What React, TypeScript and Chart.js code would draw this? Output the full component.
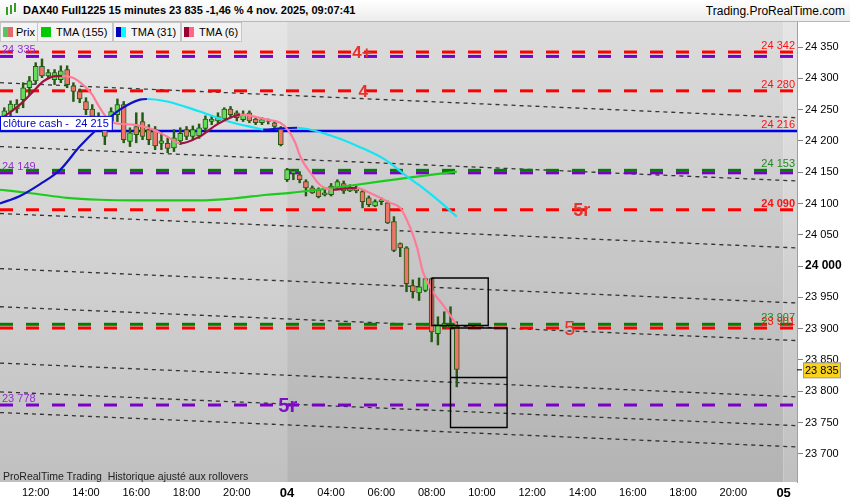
import React, { useEffect, useRef } from "react";
import { Chart, registerables } from "chart.js";

Chart.register(...registerables);

const FONT = '"Liberation Sans", Arial, Helvetica, sans-serif';

// ---------- candles (15 min bars, index = bar number) ----------
const OPEN = [
  24239, 24247, 24251, 24266, 24285, 24296, 24319, 24304, 24298, 24298,
  24314, 24288, 24279, 24263, 24251, 24239, 24224, 24231, 24242, 24258,
  24199, 24223, 24231, 24218, 24218, 24196, 24196, 24189, 24200, 24218,
  24207, 24208, 24220, 24231, 24232, 24235, 24251, 24245, 24234, 24245,
  24235, 24229, 24231, 24229, 24220,
  24138, 24148, 24146, 24135, 24125, 24122, 24114, 24114, 24125, 24132,
  24120, 24125, 24119, 24109, 24096, 24103, 24101, 24071, 24036, 24029,
  23969, 23957, 23961, 23980, 23892, 23903, 23903, 23903,
];
const HIGH = [
  24253, 24264, 24266, 24293, 24303, 24325, 24331, 24314, 24314, 24320,
  24320, 24293, 24283, 24269, 24258, 24245, 24234, 24253, 24267, 24263,
  24221, 24245, 24245, 24226, 24223, 24213, 24205, 24218, 24221, 24223,
  24224, 24227, 24240, 24240, 24245, 24253, 24255, 24248, 24248, 24248,
  24239, 24237, 24235, 24232, 24223,
  24156, 24154, 24151, 24138, 24128, 24125, 24122, 24132, 24138, 24136,
  24130, 24128, 24122, 24112, 24106, 24109, 24104, 24079, 24037, 24031,
  23978, 23981, 23981, 23981, 23919, 23927, 23935, 23911,
];
const LOW = [
  24234, 24239, 24245, 24253, 24274, 24291, 24301, 24299, 24290, 24293,
  24285, 24263, 24261, 24242, 24237, 24223, 24194, 24221, 24231, 24197,
  24191, 24197, 24202, 24194, 24186, 24186, 24181, 24183, 24194, 24202,
  24202, 24204, 24216, 24226, 24229, 24232, 24237, 24232, 24231, 24229,
  24226, 24226, 24227, 24220, 24192,
  24135, 24138, 24133, 24112, 24116, 24109, 24112, 24112, 24122, 24116,
  24119, 24117, 24093, 24095, 24095, 24098, 24068, 24023, 24015, 23959,
  23949, 23945, 23959, 23879, 23874, 23900, 23900, 23807,
];
const CLOSE = [
  24248, 24259, 24259, 24285, 24296, 24319, 24304, 24309, 24309, 24312,
  24290, 24279, 24267, 24250, 24239, 24227, 24207, 24247, 24258, 24202,
  24213, 24210, 24207, 24202, 24192, 24200, 24188, 24205, 24212, 24207,
  24218, 24221, 24235, 24235, 24239, 24251, 24242, 24237, 24243, 24232,
  24229, 24234, 24232, 24223, 24194,
  24154, 24152, 24138, 24125, 24117, 24111, 24117, 24128, 24135, 24120,
  24125, 24120, 24103, 24098, 24103, 24106, 24069, 24025, 24029, 23972,
  23959, 23967, 23980, 23895, 23906, 23908, 23906, 23835,
];

// ---------- moving averages (read at bar positions) ----------
const TMA6_X = [0, 2.5, 4.6, 6.2, 7.8, 9.2, 10.9, 12.5, 14, 14.9, 16.3, 17.3, 20.5, 23.7, 25.9, 28, 31.1, 33.8, 36.4, 37.5, 41.8, 43.9, 45.1, 46.3, 47.1, 47.8, 48.6, 50.2, 52.3, 54.2, 56.1, 57.7, 61.4, 63, 64.6, 65.7, 66.6, 68.2, 69.8, 72];
const TMA6_Y = [24239, 24258, 24279, 24295, 24303, 24304, 24301, 24290, 24274, 24258, 24237, 24229, 24226, 24218, 24207, 24196, 24207, 24226, 24239, 24242, 24234, 24229, 24218, 24197, 24175, 24162, 24151, 24130, 24122, 24124, 24125, 24119, 24101, 24093, 24061, 24029, 23991, 23959, 23938, 23906];

const TMA31_X = [-0.68, 2.5, 5.7, 8.9, 12, 15.2, 18.4, 21.6, 22.7, 25.9, 31.1, 36.4, 39.9, 41.2, 43.9, 46.6, 51.8, 56.6, 60.6, 64.1, 66.6, 69.3, 72];
const TMA31_Y = [24100, 24112, 24131, 24154, 24191, 24223, 24250, 24266, 24267, 24263, 24247, 24229, 24221, 24218, 24220, 24221, 24209, 24190, 24170, 24143, 24125, 24103, 24079];

const TMA155_X = [-0.68, 4.6, 10, 15.2, 20.5, 31.1, 36.4, 41.8, 45.5, 50.7, 56.1, 64.1, 72];
const TMA155_Y = [24122, 24116, 24109, 24106, 24105, 24105, 24108, 24114, 24117, 24123, 24130, 24141, 24151];

// ---------- horizontal levels ----------
const RED_LEVELS = [24342, 24280, 24090, 23901];
const RED_TAGS = ["4+", "4", "5r", "5"];
const RED_TAG_AT = [56.9, 57.1, 91.9, 90];
const PURPLE_LEVELS = [24335, 24149, 23778];
const PURPLE_TAGS = ["", "", "5r"];
const PURPLE_TAG_AT = [0, 0, 45.1];
const GREEN_LEVELS = [24153, 23907];
const CASH_LEVEL = 24216;
const CASH_TEXT = "clôture cash -  24 215";
const RIGHT_LABELS = [24342, 24280, 24216, 24153, 24090, 23907, 23901];
const LAST_PRICE = 23835;

// ---------- trend channel lines (value at left edge / right edge) ----------
const TREND_START = [24293, 24191, 24084, 23996, 23935, 23845, 23799, 23766];
const TREND_END = [24237, 24136, 24029, 23941, 23881, 23791, 23745, 23711];

// ---------- range boxes ----------
const BOX_LEFT = [68, 71];
const BOX_RIGHT = [77, 80];
const BOX_TOP = [23981, 23901];
const BOX_BOTTOM = [23905, 23742];
const BOX_MID = 23822;

// ---------- axes ----------
const TIME_TICKS = [5, 13, 21, 29, 37, 45, 52, 60, 68, 76, 84, 92, 100, 108, 116, 124];
const TIME_LABELS = ["12:00", "14:00", "16:00", "18:00", "20:00", "04", "04:00", "06:00", "08:00", "10:00", "12:00", "14:00", "16:00", "18:00", "20:00", "05"];
const DAY_STARTS = [45, 124];
const PRICE_TICKS = [23700, 23750, 23800, 23850, 23900, 23950, 24000, 24050, 24100, 24150, 24200, 24250, 24300, 24350];
const X_MIN = -0.68;
const X_MAX = 126.13;
const Y_MIN = 23655;
const Y_MAX = 24390;

const fmt = (v: number) => {
  const s = Math.round(v).toString();
  return s.slice(0, s.length - 3) + " " + s.slice(-3);
};

const C_UP = "#63dc58";
const C_DN = "#ef7468";
const C_EDGE = "#245a12";
const C_RED = "#ff0000";
const C_PURPLE = "#7a00c8";
const C_GREEN = "#008000";

const bgPlugin = {
  id: "bgPlugin",
  beforeDraw(chart: any) {
    const { ctx, chartArea: a, scales } = chart;
    const x = scales.x;
    ctx.save();
    ctx.fillStyle = "#ffffff";
    ctx.fillRect(0, 0, chart.width, chart.height);
    const light = ctx.createLinearGradient(0, a.top, 0, a.bottom);
    light.addColorStop(0, "#e5e5e5");
    light.addColorStop(1, "#c0c0c0");
    const dark = ctx.createLinearGradient(0, a.top, 0, a.bottom);
    dark.addColorStop(0, "#dcdcdc");
    dark.addColorStop(1, "#b3b3b3");
    const b1 = x.getPixelForValue(DAY_STARTS[0]);
    const b2 = x.getPixelForValue(DAY_STARTS[1]);
    const h = a.bottom - a.top;
    ctx.fillStyle = light;
    ctx.fillRect(a.left, a.top, b1 - a.left, h);
    ctx.fillStyle = dark;
    ctx.fillRect(b1, a.top, b2 - b1, h);
    ctx.fillStyle = light;
    ctx.fillRect(b2, a.top, a.right - b2, h);
    ctx.restore();
  },
};

const annotPlugin = {
  id: "annotPlugin",
  afterDatasetsDraw(chart: any) {
    const { ctx, chartArea: a, scales } = chart;
    const x = scales.x;
    const y = scales.y;
    ctx.save();
    ctx.beginPath();
    ctx.rect(a.left, a.top, a.right - a.left, a.bottom - a.top);
    ctx.clip();

    // right value labels
    ctx.textAlign = "right";
    ctx.textBaseline = "alphabetic";
    RIGHT_LABELS.forEach((v) => {
      const green = GREEN_LEVELS.includes(v);
      ctx.fillStyle = green ? "#1f8a1f" : "#ff1010";
      ctx.font = (v === 24090 ? "bold " : "") + "11px " + FONT;
      ctx.fillText(fmt(v), a.right - 2, y.getPixelForValue(v) - 3);
    });

    // left purple labels
    ctx.textAlign = "left";
    ctx.fillStyle = "#9030d0";
    ctx.font = "11px " + FONT;
    PURPLE_LEVELS.forEach((v) => {
      ctx.fillText(fmt(v), a.left + 2, y.getPixelForValue(v) - 3);
    });

    // big tags on levels
    ctx.textAlign = "center";
    ctx.textBaseline = "middle";
    RED_LEVELS.forEach((v, i) => {
      const t = RED_TAGS[i];
      if (!t) return;
      ctx.fillStyle = "#e8322c";
      ctx.font = (t === "5" ? "" : "bold ") + (t === "5" ? "20px " : t === "5r" ? "18px " : "17px ") + FONT;
      ctx.fillText(t, x.getPixelForValue(RED_TAG_AT[i]), y.getPixelForValue(v) + 1);
    });
    PURPLE_LEVELS.forEach((v, i) => {
      const t = PURPLE_TAGS[i];
      if (!t) return;
      ctx.fillStyle = "#7a10c0";
      ctx.font = "bold 20px " + FONT;
      ctx.fillText(t, x.getPixelForValue(PURPLE_TAG_AT[i]), y.getPixelForValue(v) + 1);
    });

    // cash close label box
    const yc = y.getPixelForValue(CASH_LEVEL);
    ctx.font = "11px " + FONT;
    const w = ctx.measureText(CASH_TEXT).width + 6;
    ctx.fillStyle = "#ffffff";
    ctx.fillRect(a.left + 0.5, yc - 14.5, w, 14);
    ctx.strokeStyle = "#0000dd";
    ctx.lineWidth = 1;
    ctx.strokeRect(a.left + 0.5, yc - 14.5, w, 14);
    ctx.fillStyle = "#0000cc";
    ctx.textAlign = "left";
    ctx.textBaseline = "alphabetic";
    ctx.fillText(CASH_TEXT, a.left + 3, yc - 3.5);
    ctx.restore();
  },
  afterDraw(chart: any) {
    const { ctx, chartArea: a, scales } = chart;
    const y = scales.y;
    const yp = y.getPixelForValue(LAST_PRICE) + 1;
    ctx.save();
    ctx.strokeStyle = "#000";
    ctx.lineWidth = 1;
    ctx.beginPath();
    ctx.moveTo(a.right, yp - 0.5);
    ctx.lineTo(a.right + 5, yp - 0.5);
    ctx.stroke();
    ctx.fillStyle = "#f8d21c";
    ctx.fillRect(a.right + 6.5, yp - 7.5, 37, 15);
    ctx.strokeStyle = "#9a9a9a";
    ctx.strokeRect(a.right + 6.5, yp - 7.5, 37, 15);
    ctx.fillStyle = "#000";
    ctx.font = "11px " + FONT;
    ctx.textAlign = "left";
    ctx.textBaseline = "middle";
    ctx.fillText(fmt(LAST_PRICE), a.right + 8, yp + 0.5);
    ctx.restore();
  },
};

function buildDatasets() {
  const ds: any[] = [];
  // trend channel
  TREND_START.forEach((s, i) => {
    ds.push({
      type: "line",
      data: [{ x: X_MIN, y: s }, { x: X_MAX, y: TREND_END[i] }],
      borderColor: "rgba(25,25,25,0.85)",
      borderWidth: 1.3,
      borderDash: [4, 4],
      pointRadius: 0,
      order: 12,
    });
  });
  const level = (v: number, color: string, order: number) => ({
    type: "line",
    data: [{ x: X_MIN, y: v }, { x: X_MAX, y: v }],
    borderColor: color,
    borderWidth: 3,
    borderDash: [13, 13],
    borderCapStyle: "butt",
    pointRadius: 0,
    order,
  });
  PURPLE_LEVELS.forEach((v) => ds.push(level(v, C_PURPLE, 11)));
  GREEN_LEVELS.forEach((v) => ds.push(level(v, C_GREEN, 10)));
  RED_LEVELS.forEach((v) => ds.push(level(v, C_RED, 10)));
  ds.push({
    type: "line",
    data: [{ x: X_MIN, y: CASH_LEVEL }, { x: X_MAX, y: CASH_LEVEL }],
    borderColor: "#0000e0",
    borderWidth: 2.5,
    pointRadius: 0,
    order: 9,
  });
  // candles
  ds.push({
    type: "bar",
    data: HIGH.map((h, i) => ({ x: i, y: [LOW[i], h] })),
    backgroundColor: C_EDGE,
    borderWidth: 0,
    barThickness: 1.8,
    grouped: false,
    order: 8,
  });
  ds.push({
    type: "bar",
    data: OPEN.map((o, i) => ({ x: i, y: [o, CLOSE[i]] })),
    backgroundColor: (c: any) => (CLOSE[c.dataIndex] >= OPEN[c.dataIndex] ? C_UP : C_DN),
    borderColor: C_EDGE,
    borderWidth: 1,
    borderSkipped: false,
    barThickness: 5,
    grouped: false,
    order: 7,
  });
  const ma = (xs: number[], ys: number[], up: string, dn: string, order: number, width: number) => ({
    type: "line",
    data: xs.map((v, i) => ({ x: v, y: ys[i] })),
    borderColor: dn,
    borderWidth: width,
    cubicInterpolationMode: "monotone",
    pointRadius: 0,
    segment: {
      borderColor: (c: any) => (c.p1.parsed.y >= c.p0.parsed.y ? up : dn),
    },
    order,
  });
  ds.push(ma(TMA155_X, TMA155_Y, "#1ccc1c", "#1ccc1c", 6, 2.2));
  ds.push(ma(TMA31_X, TMA31_Y, "#1010c8", "#12e6f6", 5, 2.2));
  ds.push(ma(TMA6_X, TMA6_Y, "#a01040", "#ff7a98", 4, 2.2));
  // boxes
  BOX_LEFT.forEach((l, i) => {
    const r = BOX_RIGHT[i];
    ds.push({
      type: "line",
      data: [
        { x: l, y: BOX_TOP[i] },
        { x: r, y: BOX_TOP[i] },
        { x: r, y: BOX_BOTTOM[i] },
        { x: l, y: BOX_BOTTOM[i] },
        { x: l, y: BOX_TOP[i] },
      ],
      borderColor: "#000",
      borderWidth: 1.4,
      pointRadius: 0,
      tension: 0,
      order: 1,
    });
  });
  ds.push({
    type: "line",
    data: [{ x: BOX_LEFT[1], y: BOX_MID }, { x: BOX_RIGHT[1], y: BOX_MID }],
    borderColor: "#000",
    borderWidth: 1.4,
    pointRadius: 0,
    order: 1,
  });
  return ds;
}

export default function App() {
  const ref = useRef<HTMLCanvasElement | null>(null);
  useEffect(() => {
    if (!ref.current) return;
    const chart = new Chart(ref.current, {
      type: "line",
      data: { datasets: buildDatasets() },
      options: {
        responsive: false,
        animation: false,
        devicePixelRatio: 1,
        layout: { padding: { top: 22, left: 0, right: 0, bottom: 0 } },
        plugins: { legend: { display: false }, tooltip: { enabled: false } },
        scales: {
          x: {
            type: "linear",
            position: "bottom",
            offset: false,
            min: X_MIN,
            max: X_MAX,
            grid: { display: false, drawTicks: false, tickLength: 0, offset: false },
            border: { display: false },
            afterBuildTicks: (s: any) => {
              s.ticks = TIME_TICKS.map((v) => ({ value: v }));
            },
            afterFit: (s: any) => {
              s.height = 18;
              s.paddingLeft = 0;
              s.paddingRight = 0;
            },
            ticks: {
              autoSkip: false,
              maxRotation: 0,
              padding: 4,
              color: "#000",
              font: (c: any) =>
                c.tick && DAY_STARTS.includes(c.tick.value)
                  ? { family: FONT, size: 13, weight: "bold" }
                  : { family: FONT, size: 11 },
              callback: (_v: any, i: number) => TIME_LABELS[i],
            },
          },
          y: {
            type: "linear",
            position: "right",
            beginAtZero: false,
            min: Y_MIN,
            max: Y_MAX,
            afterBuildTicks: (s: any) => {
              s.ticks = PRICE_TICKS.map((v) => ({ value: v }));
            },
            afterFit: (s: any) => {
              s.width = 53;
            },
            grid: { drawOnChartArea: false, drawTicks: true, tickLength: 6, color: "#808080" },
            border: { display: true, color: "#a0a0a0" },
            ticks: {
              padding: 2,
              color: "#000",
              font: (c: any) =>
                c.tick && c.tick.value === 24000
                  ? { family: FONT, size: 12, weight: "bold" }
                  : { family: FONT, size: 11 },
              callback: (v: any) => fmt(Number(v)),
            },
          },
        },
      } as any,
      plugins: [bgPlugin, annotPlugin],
    });
    return () => chart.destroy();
  }, []);

  const box = (left: number, width: number): React.CSSProperties => ({
    position: "absolute",
    left,
    top: 22,
    width,
    height: 20,
    boxSizing: "border-box",
    background: "#f4f4f4",
    border: "1px solid #c6c6c6",
    fontSize: 11,
    lineHeight: "18px",
    color: "#000",
  });
  const icon = (left: number, c1: string, c2: string): React.CSSProperties => ({
    position: "absolute",
    left,
    top: 4,
    width: 10,
    height: 10,
    background: `linear-gradient(90deg, ${c1} 50%, ${c2} 50%)`,
  });

  return (
    <div style={{ position: "absolute", left: 0, top: 0, width: 850, height: 500, fontFamily: FONT, overflow: "hidden", background: "#fff" }}>
      <canvas ref={ref} width={850} height={500} style={{ position: "absolute", left: 0, top: 0 }} />
      <div
        style={{
          position: "absolute",
          left: 0,
          top: 0,
          width: 850,
          height: 22,
          boxSizing: "border-box",
          background: "linear-gradient(#ffffff, #ececec)",
          borderBottom: "1px solid #b8b8b8",
        }}
      >
        <div style={{ position: "absolute", left: 6, top: 7, width: 2, height: 8, background: "#3a9a2a" }} />
        <div style={{ position: "absolute", left: 10, top: 5, width: 2, height: 9, background: "#3a9a2a" }} />
        <div style={{ position: "absolute", left: 14, top: 3, width: 2, height: 9, background: "#3a9a2a" }} />
        <div style={{ position: "absolute", left: 23, top: 4, fontSize: 11, fontWeight: "bold", color: "#000", whiteSpace: "pre" }}>
          DAX40 Full1225 15 minutes 23 835 -1,46 % 4 nov. 2025, 09:07:41
        </div>
        <div style={{ position: "absolute", right: 5, top: 4, fontSize: 12, color: "#000", whiteSpace: "pre" }}>Trading.ProRealTime.com</div>
      </div>
      <div style={box(0, 38)}>
        <div style={icon(2, "#5cc45c", "#e06868")} />
        <span style={{ position: "absolute", left: 15 }}>Prix</span>
      </div>
      <div style={box(37, 76)}>
        <div style={icon(3, "#00cc00", "#00cc00")} />
        <span style={{ position: "absolute", left: 18 }}>TMA (155)</span>
      </div>
      <div style={box(113, 68)}>
        <div style={icon(2, "#0000c0", "#00ffff")} />
        <span style={{ position: "absolute", left: 17 }}>TMA (31)</span>
      </div>
      <div style={box(181, 61)}>
        <div style={icon(2, "#990033", "#ff6688")} />
        <span style={{ position: "absolute", left: 17 }}>TMA (6)</span>
      </div>
      <div style={{ position: "absolute", left: 3, top: 470, fontSize: 10.5, color: "#222", whiteSpace: "pre" }}>
        ProRealTime Trading  Historique ajusté aux rollovers
      </div>
    </div>
  );
}
